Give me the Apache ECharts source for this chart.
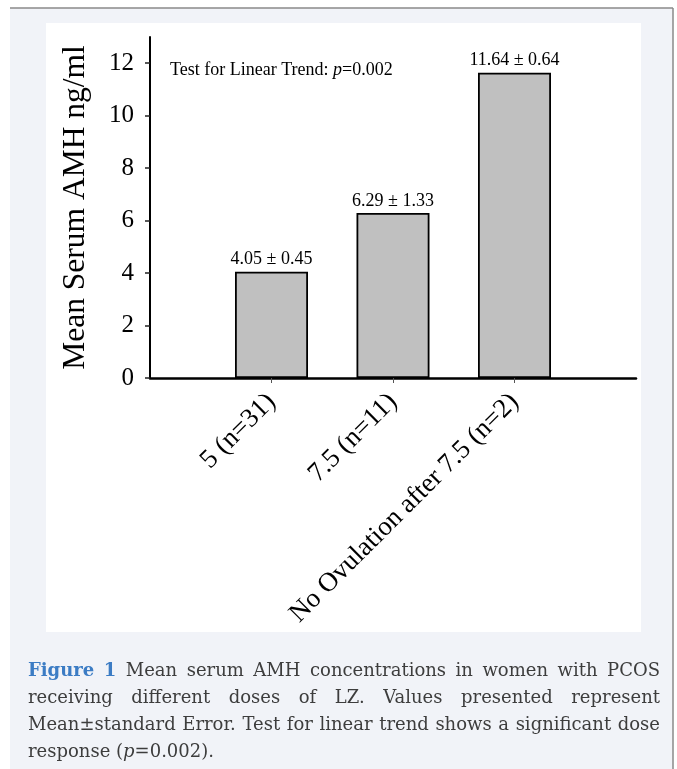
<!DOCTYPE html>
<html>
<head>
<meta charset="utf-8">
<script src="https://cdn.jsdelivr.net/npm/echarts@6/dist/echarts.min.js"></script>
<style>
html,body{margin:0;padding:0;background:#fff;}
#chart{width:677px;height:769px;}
</style>
</head>
<body>
<div id="chart"></div>
<script>
const categories = ['', '5 (n=31)', '7.5 (n=11)', 'No Ovulation after 7.5 (n=2)', ''];
const means = [null, 4.05, 6.29, 11.64, null];
const sems = [null, 0.45, 1.33, 0.64, null];
const yTicks = [0, 2, 4, 6, 8, 10, 12];
const trendText = ['Test for Linear Trend: ', 'p', '=0.002'];
const captionLines = [
  ['Figure', '1', 'Mean', 'serum', 'AMH', 'concentrations', 'in', 'women', 'with', 'PCOS'],
  ['receiving', 'different', 'doses', 'of', 'LZ.', 'Values', 'presented', 'represent'],
  ['Mean±standard', 'Error.', 'Test', 'for', 'linear', 'trend', 'shows', 'a', 'significant', 'dose']
];
const captionLast = ['response (', 'p', '=0.002).'];

const SERIF = "'Liberation Serif','Times New Roman',serif";
const CAP_FONT = "'DejaVu Serif',serif";
const capSize = 18;
const chart = echarts.init(document.getElementById('chart'), null, {renderer: 'canvas'});

// caption layout (justified, horizontally condensed)
const ctx = document.createElement('canvas').getContext('2d');
const capLeft = 28, capRight = 660, capW = capRight - capLeft;
function measure(w, bold) {
  ctx.font = (bold ? 'bold ' : '') + capSize + 'px ' + CAP_FONT;
  return ctx.measureText(w).width;
}
const spaceW = measure(' ', false);
const l3 = captionLines[2];
const l3w = l3.reduce((a, w) => a + measure(w, false), 0) + (l3.length - 1) * spaceW;
const sx = Math.min(1, capW / l3w);
const capY = [671, 698, 725];
const captionEls = [];
captionLines.forEach((ws, li) => {
  const widths = ws.map((w, i) => measure(w, li === 0 && i < 2) * sx);
  const sum = widths.reduce((a, b) => a + b, 0);
  const gap = (capW - sum) / (ws.length - 1);
  let x = capLeft;
  ws.forEach((w, i) => {
    const bold = li === 0 && i < 2;
    captionEls.push({
      type: 'text', x: x, y: capY[li], z: 5, scaleX: sx,
      style: {text: w, fill: bold ? '#3c7cc4' : '#3d3d3d', font: (bold ? 'bold ' : '') + capSize + 'px ' + CAP_FONT, verticalAlign: 'middle'}
    });
    x += widths[i] + gap;
  });
});
captionEls.push({
  type: 'text', x: capLeft, y: 752, z: 5, scaleX: sx,
  style: {
    text: '{n|' + captionLast[0] + '}{i|' + captionLast[1] + '}{n|' + captionLast[2] + '}',
    verticalAlign: 'middle',
    rich: {
      n: {fontFamily: CAP_FONT, fontSize: capSize, fill: '#3d3d3d', color: '#3d3d3d'},
      i: {fontFamily: CAP_FONT, fontSize: capSize, fontStyle: 'italic', fill: '#3d3d3d', color: '#3d3d3d'}
    }
  }
});

const option = {
  animation: false,
  grid: {left: 150, right: 41, top: 37, bottom: 391},
  xAxis: {
    type: 'category',
    data: categories,
    boundaryGap: false,
    axisLine: {lineStyle: {color: '#000', width: 2.5}},
    axisTick: {show: true, length: 5, lineStyle: {color: '#555', width: 1}, interval: (i, v) => v !== ''},
    axisLabel: {interval: 0, rotate: 45, margin: 20, color: '#000', fontFamily: SERIF, fontSize: 27}
  },
  yAxis: {
    type: 'value',
    min: 0, max: 13,
    name: 'Mean Serum AMH ng/ml',
    nameLocation: 'middle',
    nameGap: 58,
    nameTextStyle: {color: '#000', fontFamily: SERIF, fontSize: 31.5},
    splitLine: {show: false},
    axisLine: {show: true, lineStyle: {color: '#000', width: 2}},
    axisTick: {show: true, length: 5, customValues: yTicks, lineStyle: {color: '#222', width: 1.5}},
    axisLabel: {customValues: yTicks, margin: 16, color: '#000', fontFamily: SERIF, fontSize: 25}
  },
  series: [{
    type: 'bar',
    data: means,
    barWidth: 73,
    itemStyle: {color: '#c0c0c0', borderColor: '#000', borderWidth: 1.8},
    label: {
      show: true, position: 'top', distance: 3,
      color: '#000', fontFamily: SERIF, fontSize: 18,
      formatter: p => means[p.dataIndex].toFixed(2) + ' ± ' + sems[p.dataIndex].toFixed(2)
    }
  }],
  graphic: [
    {type: 'rect', z: -10, shape: {x: 10, y: 8, width: 663, height: 761}, style: {fill: '#f1f3f8'}},
    {type: 'line', z: -9, shape: {x1: 10, y1: 8, x2: 673, y2: 8}, style: {stroke: '#8a8a8a', lineWidth: 1.5}},
    {type: 'line', z: -9, shape: {x1: 673, y1: 8, x2: 673, y2: 769}, style: {stroke: '#8a8a8a', lineWidth: 1.5}},
    {type: 'rect', z: -8, shape: {x: 46, y: 23, width: 595, height: 609}, style: {fill: '#ffffff'}},
    {
      type: 'text', x: 170, y: 70, z: 5,
      style: {
        text: '{n|' + trendText[0] + '}{i|' + trendText[1] + '}{n|' + trendText[2] + '}',
        verticalAlign: 'middle',
        rich: {
          n: {fontFamily: SERIF, fontSize: 18, fill: '#000', color: '#000'},
          i: {fontFamily: SERIF, fontSize: 18, fontStyle: 'italic', fill: '#000', color: '#000'}
        }
      }
    }
  ].concat(captionEls)
};
chart.setOption(option);
</script>
</body>
</html>
